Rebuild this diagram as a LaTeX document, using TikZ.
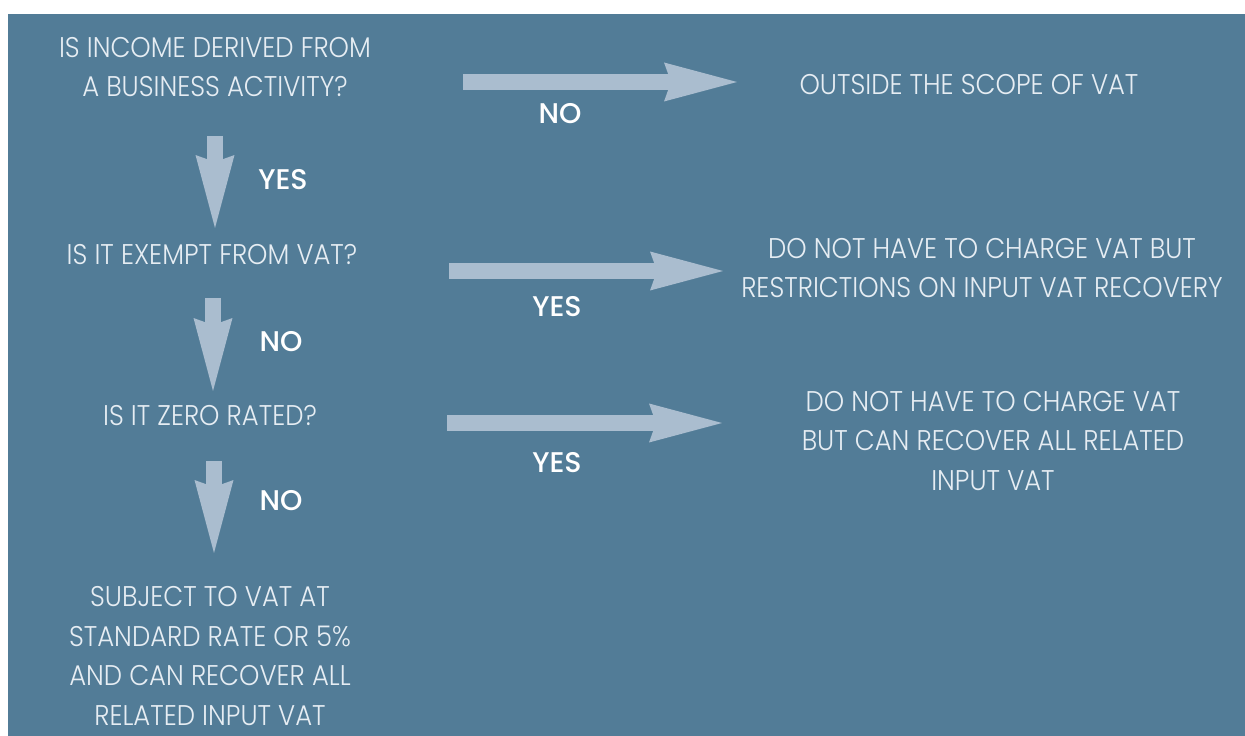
\documentclass[tikz,border=0pt]{standalone}
\usepackage{fontspec}
\setmainfont{Poppins}[UprightFont=* Light, BoldFont=* Medium]
\newfontfamily\vatlight{Poppins}[UprightFont=* Light, FakeStretch=0.91]
\usetikzlibrary{arrows.meta}

\definecolor{vatbg}{HTML}{527C97}
\definecolor{vatarrow}{HTML}{AABDCF}
\definecolor{vattext}{HTML}{E6EDF3}

\begin{document}
\begin{tikzpicture}[x=0.02cm,y=-0.02cm,
    txt/.style={text=vattext,align=center,inner sep=0pt,
      font=\vatlight\fontsize{16.2}{22.7}\selectfont},
    ans/.style={text=white,inner sep=0pt,
      font=\fontsize{16.2}{22.7}\selectfont\bfseries},
    flow/.style={vatarrow,line width=0.32cm,
      -{Stealth[length=1.46cm,width=0.78cm,inset=0.14cm,line width=0pt]}}]
  \useasboundingbox (0,0) rectangle (1245,736);
  \fill[vatbg] (8,14) rectangle (1245,736);

  % questions down the left
  \node[txt] (Q1) at (215,67) {IS INCOME DERIVED FROM\\A BUSINESS ACTIVITY?};
  \node[txt] (Q2) at (212,255) {IS IT EXEMPT FROM VAT?};
  \node[txt] (Q3) at (210,416) {IS IT ZERO RATED?};
  \node[txt] (S)  at (210,656) {SUBJECT TO VAT AT\\STANDARD RATE OR 5\%\\AND CAN RECOVER ALL\\RELATED INPUT VAT};

  % outcomes on the right
  \node[txt] (O1) at (969,85) {OUTSIDE THE SCOPE OF VAT};
  \node[txt] (O2) at (982,268) {DO NOT HAVE TO CHARGE VAT BUT\\RESTRICTIONS ON INPUT VAT RECOVERY};
  \node[txt] (O3) at (993,441) {DO NOT HAVE TO CHARGE VAT\\BUT CAN RECOVER ALL RELATED\\INPUT VAT};

  % arrow ends
  \coordinate (A1) at (463,82);  \coordinate (B1) at (737,82);
  \coordinate (A2) at (449,271); \coordinate (B2) at (723,271);
  \coordinate (A3) at (447,423); \coordinate (B3) at (722,423);
  \coordinate (D1) at (215,136); \coordinate (E1) at (215,228);
  \coordinate (D2) at (213,298); \coordinate (E2) at (213,391);
  \coordinate (D3) at (214,461); \coordinate (E3) at (214,553);

  \draw[flow] (A1) -- (B1);
  \draw[flow] (A2) -- (B2);
  \draw[flow] (A3) -- (B3);
  \draw[flow] (D1) -- (E1);
  \draw[flow] (D2) -- (E2);
  \draw[flow] (D3) -- (E3);

  % answers
  \node[ans] (N1) at (560,114) {NO};
  \node[ans] (Y1) at (283,180) {YES};
  \node[ans] (Y2) at (557,307) {YES};
  \node[ans] (N2) at (281,342) {NO};
  \node[ans] (Y3) at (557,463) {YES};
  \node[ans] (N3) at (281,501) {NO};
\end{tikzpicture}
\end{document}
